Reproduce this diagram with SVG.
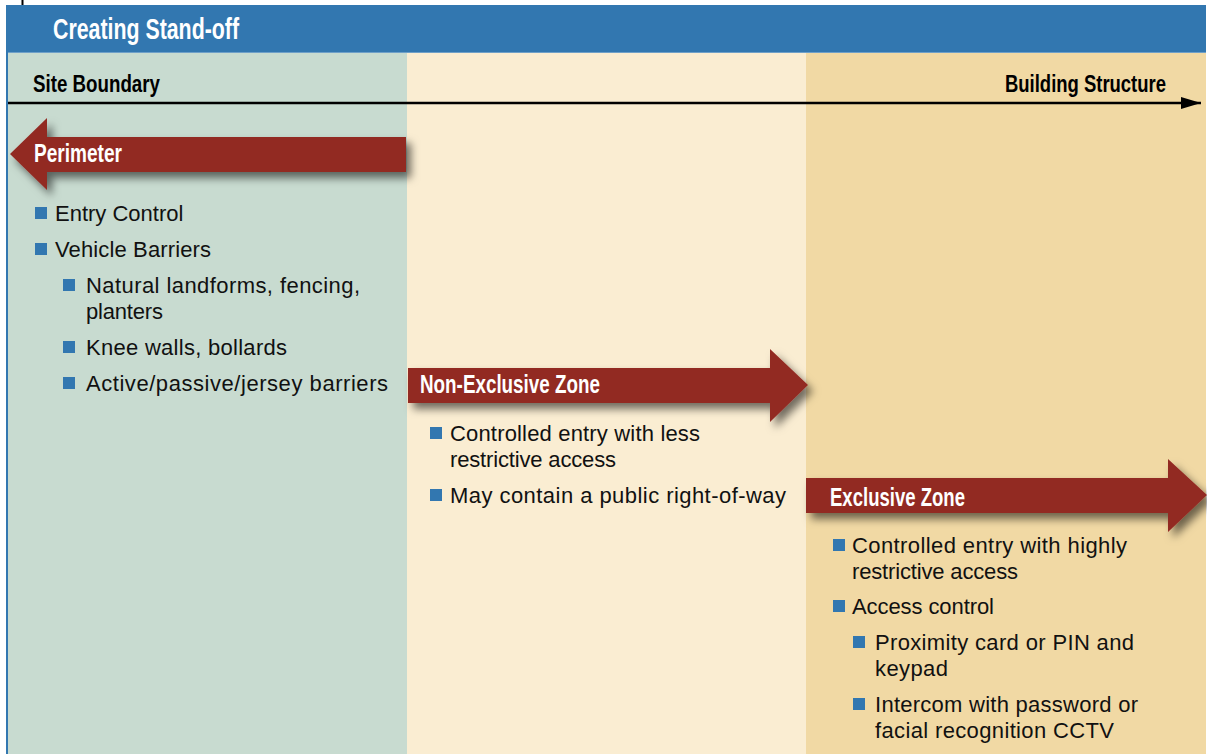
<svg xmlns="http://www.w3.org/2000/svg" width="1207" height="754" viewBox="0 0 1207 754">
  <defs>
    <filter id="shadow" x="-10%" y="-30%" width="120%" height="170%">
      <feDropShadow dx="5" dy="6" stdDeviation="4" flood-color="#000" flood-opacity="0.55"/>
    </filter>
    <marker id="axisHead" markerWidth="20" markerHeight="12" refX="20" refY="6" orient="auto" markerUnits="userSpaceOnUse">
      <path d="M0,0 L20,6 L0,12 Z" fill="#000"/>
    </marker>
  </defs>
  <style>
    .head { font-family: "Liberation Sans", Arial, sans-serif; font-weight: bold; fill: #fff; }
    .axis-label { font-family: "Liberation Sans", Arial, sans-serif; font-weight: bold; fill: #000; font-size: 24px; }
    .body { font-family: "Liberation Sans", Arial, sans-serif; font-size: 22px; fill: #111; }
    .bullet { fill: #3277B0; }
    .arrow { fill: #922A24; filter: url(#shadow); }
  </style>

  <rect x="0" y="0" width="1207" height="754" fill="#fff"/>

  <!-- zone backgrounds -->
  <g id="zones">
    <rect x="8" y="53" width="399" height="701" fill="#C8DBD0"/>
    <rect x="407" y="53" width="399" height="701" fill="#FAEDD2"/>
    <rect x="806" y="53" width="400" height="701" fill="#F1D9A4"/>
    <rect x="6" y="5" width="2" height="749" fill="#3277B0"/>
    <line x1="22.5" y1="0" x2="22.5" y2="5" stroke="#000" stroke-width="2"/>
  </g>

  <!-- title bar -->
  <g id="title">
    <rect x="6" y="5" width="1200" height="48" fill="#3277B0"/>
    <line x1="8" y1="52.5" x2="1206" y2="52.5" stroke="#6FA0C8" stroke-width="1"/>
    <text class="head" x="53" y="39" font-size="29" textLength="186" lengthAdjust="spacingAndGlyphs">Creating Stand-off</text>
  </g>

  <!-- site-to-building axis -->
  <g id="connectors">
    <line x1="8" y1="103" x2="1201" y2="103" stroke="#000" stroke-width="2.5" marker-end="url(#axisHead)"/>
  </g>
  <g id="axis-labels">
    <text class="axis-label" x="33" y="92" textLength="127" lengthAdjust="spacingAndGlyphs">Site Boundary</text>
    <text class="axis-label" x="1005" y="92" textLength="161" lengthAdjust="spacingAndGlyphs">Building Structure</text>
  </g>

  <!-- Perimeter -->
  <g id="perimeter">
    <path class="arrow" d="M406,137 L47,137 L47,118 L10,154 L47,190 L47,172 L406,172 Z"/>
    <text class="head" x="34" y="162" font-size="25" textLength="88" lengthAdjust="spacingAndGlyphs">Perimeter</text>
    <rect class="bullet" x="35" y="207" width="12" height="12"/>
    <text class="body" x="55" y="221">Entry Control</text>
    <rect class="bullet" x="35" y="243" width="12" height="12"/>
    <text class="body" x="55" y="257" textLength="156">Vehicle Barriers</text>
    <rect class="bullet" x="63" y="279" width="12" height="12"/>
    <text class="body" x="86" y="293" textLength="274">Natural landforms, fencing,</text>
    <text class="body" x="86" y="319" textLength="77">planters</text>
    <rect class="bullet" x="63" y="341" width="12" height="12"/>
    <text class="body" x="86" y="355" textLength="201">Knee walls, bollards</text>
    <rect class="bullet" x="63" y="377" width="12" height="12"/>
    <text class="body" x="86" y="391" textLength="302">Active/passive/jersey barriers</text>
  </g>

  <!-- Non-Exclusive Zone -->
  <g id="non-exclusive-zone">
    <path class="arrow" d="M408,368 L770,368 L770,349 L808,385 L770,422 L770,403 L408,403 Z"/>
    <text class="head" x="420" y="393" font-size="25" textLength="180" lengthAdjust="spacingAndGlyphs">Non-Exclusive Zone</text>
    <rect class="bullet" x="430" y="427" width="12" height="12"/>
    <text class="body" x="450" y="441" textLength="250">Controlled entry with less</text>
    <text class="body" x="450" y="467" textLength="166">restrictive access</text>
    <rect class="bullet" x="430" y="489" width="12" height="12"/>
    <text class="body" x="450" y="503" textLength="336">May contain a public right-of-way</text>
  </g>

  <!-- Exclusive Zone -->
  <g id="exclusive-zone">
    <path class="arrow" d="M806,478 L1168,478 L1168,459 L1207,495 L1168,532 L1168,513 L806,513 Z"/>
    <text class="head" x="830" y="506" font-size="25" textLength="135" lengthAdjust="spacingAndGlyphs">Exclusive Zone</text>
    <rect class="bullet" x="833" y="539" width="12" height="12"/>
    <text class="body" x="852" y="553" textLength="275">Controlled entry with highly</text>
    <text class="body" x="852" y="579" textLength="166">restrictive access</text>
    <rect class="bullet" x="833" y="600" width="12" height="12"/>
    <text class="body" x="852" y="614" textLength="142">Access control</text>
    <rect class="bullet" x="853" y="636" width="12" height="12"/>
    <text class="body" x="875" y="650" textLength="259">Proximity card or PIN and</text>
    <text class="body" x="875" y="676" textLength="73">keypad</text>
    <rect class="bullet" x="853" y="698" width="12" height="12"/>
    <text class="body" x="875" y="712" textLength="263">Intercom with password or</text>
    <text class="body" x="875" y="738" textLength="239">facial recognition CCTV</text>
  </g>
</svg>
